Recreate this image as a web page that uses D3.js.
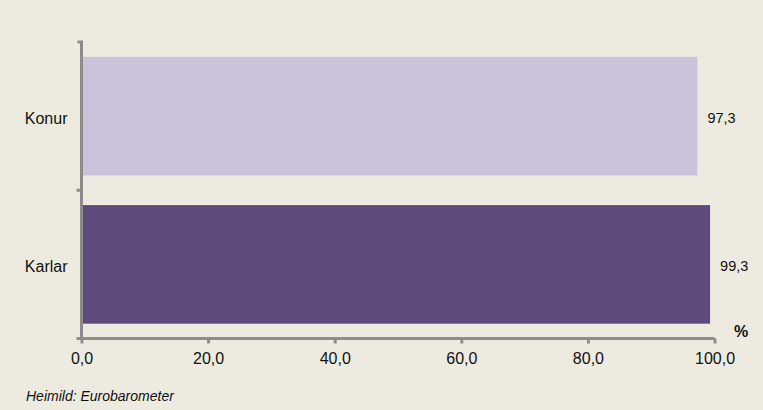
<!DOCTYPE html>
<html><head><meta charset="utf-8">
<script src="https://cdn.jsdelivr.net/npm/d3@7"></script>
<style>
html,body{margin:0;padding:0;background:#fff;}
svg{display:block;}
text{font-family:"Liberation Sans",Arial,sans-serif;fill:#111;}
</style></head>
<body>
<svg id="c" width="763" height="410"></svg>
<script>
const categories = ["Konur", "Karlar"];
const values = [97.3, 99.3];
const xTicks = [0, 20, 40, 60, 80, 100];
const colors = ["#CBC1DB", "#5F4B7B"];
const unitLabel = "%";
const sourceText = "Heimild: Eurobarometer";

const svg = d3.select("#c");
svg.append("rect").attr("width", 763).attr("height", 410).attr("fill", "#EDEBE0");

const x = d3.scaleLinear().domain([0, 100]).range([81.5, 714.5]);
const y = d3.scaleBand().domain(categories).range([42, 338.5]).paddingInner(0.2).paddingOuter(0.1);
const fmt = d => d3.format(".1f")(d).replace(".", ",");
const axisColor = "#8C8C8C";

// bars
svg.selectAll("rect.bar").data(categories).enter().append("rect")
  .attr("class", "bar")
  .attr("x", x(0) + 1.5)
  .attr("y", d => y(d))
  .attr("width", (d, i) => x(values[i]) - x(0) - 1.5)
  .attr("height", y.bandwidth())
  .attr("fill", (d, i) => colors[i]);

// value labels
svg.selectAll("text.val").data(categories).enter().append("text")
  .attr("class", "val")
  .attr("x", (d, i) => x(values[i]) + 10)
  .attr("y", d => y(d) + y.bandwidth() / 2 + 6.5)
  .attr("font-size", "14.5px")
  .text((d, i) => fmt(values[i]));

// x axis
const xAxis = d3.axisBottom(x).tickValues(xTicks).tickSize(5).tickPadding(9).tickFormat(fmt);
const gx = svg.append("g").attr("transform", "translate(0,338.5)").call(xAxis);
gx.select(".domain").attr("stroke", axisColor).attr("stroke-width", 3)
  .attr("d", `M${x(0) - 5},0H${x(100)}`);
gx.selectAll(".tick line").attr("stroke", axisColor).attr("stroke-width", 3);
gx.selectAll(".tick text").attr("font-size", "16px").attr("fill", "#111")
  .attr("font-family", "Liberation Sans, Arial, sans-serif");

// y axis
const yAxis = d3.axisLeft(y).tickSize(0).tickPadding(14);
const gy = svg.append("g").attr("transform", `translate(${x(0)},0)`).call(yAxis);
gy.select(".domain").attr("stroke", axisColor).attr("stroke-width", 3)
  .attr("d", `M-4,${y.range()[0]}H0V${y.range()[1] + 1.5}`);
gy.selectAll(".tick text").attr("font-size", "16px").attr("fill", "#111")
  .attr("font-family", "Liberation Sans, Arial, sans-serif").attr("dy", "0.5em");
// category boundary tick
const bounds = [y.range()[0] + (y(categories[0]) + y.bandwidth() + y(categories[1]) - 2 * y.range()[0]) / 2];
gy.selectAll("line.bnd").data(bounds).enter().append("line")
  .attr("class", "bnd").attr("x1", -5).attr("x2", 0)
  .attr("y1", d => d).attr("y2", d => d)
  .attr("stroke", axisColor).attr("stroke-width", 3);

// unit label
svg.append("text").attr("x", 741).attr("y", 337).attr("text-anchor", "middle")
  .attr("font-size", "16px").attr("font-weight", "bold").text(unitLabel);

// source
svg.append("text").attr("x", 26).attr("y", 401).attr("font-size", "14px")
  .attr("font-style", "italic").text(sourceText);
</script>
</body></html>
